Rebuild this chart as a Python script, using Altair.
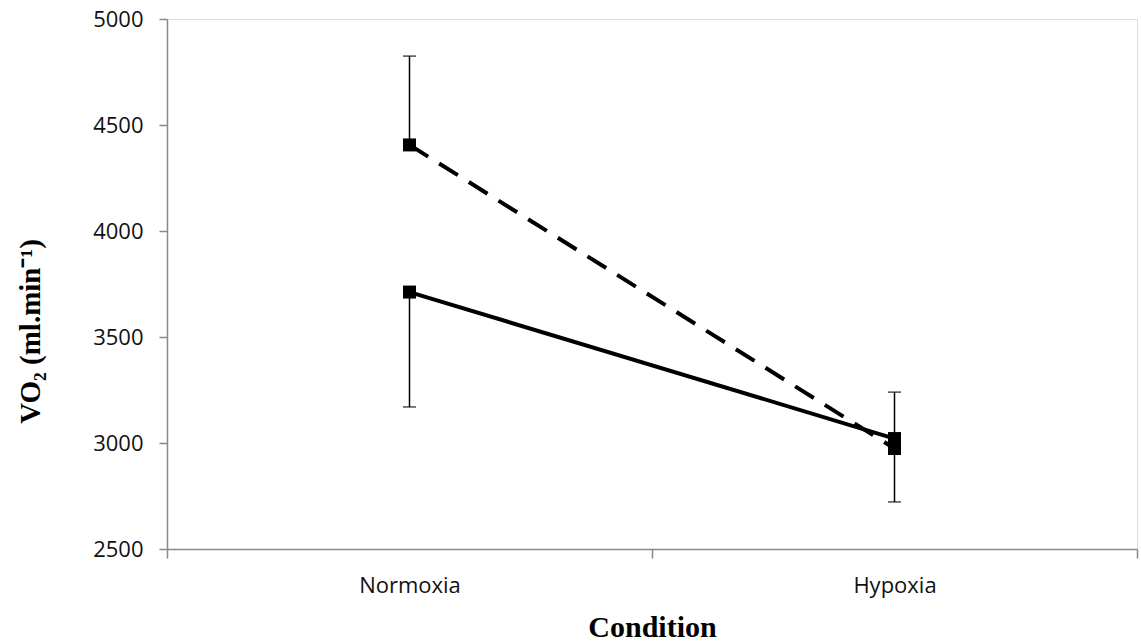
import altair as alt
import pandas as pd

conditions = ["Normoxia", "Hypoxia"]
x_pos = [0.5, 1.5]
solid_mean = [3712, 3021]
solid_err_end = [3170, 2722]
dashed_mean = [4406, 2974]
dashed_err_end = [4825, 3240]

rows = []
for i, c in enumerate(conditions):
    rows.append({"condition": c, "x": x_pos[i], "series": "solid", "mean": solid_mean[i], "err": solid_err_end[i]})
    rows.append({"condition": c, "x": x_pos[i], "series": "dashed", "mean": dashed_mean[i], "err": dashed_err_end[i]})
df = pd.DataFrame(rows)

GRAY = "#898989"
xscale = alt.Scale(domain=[0, 2], nice=False, zero=False)
yscale = alt.Scale(domain=[2500, 5000], nice=False, zero=False)

xaxis = alt.Axis(
    values=[0, 0.5, 1, 1.5, 2],
    labelExpr="datum.value == 0.5 ? 'Normoxia' : (datum.value == 1.5 ? 'Hypoxia' : '')",
    tickOpacity={"condition": {"test": "datum.value % 1 === 0", "value": 1}, "value": 0},
    tickSize=9, tickColor=GRAY, tickWidth=1.5,
    domainColor=GRAY, domainWidth=1.5,
    labelFont="Open Sans", labelFontSize=22, labelColor="#111",
    labelBaseline="alphabetic", labelPadding=34, labelFlush=False,
    grid=False,
    title="Condition", titleFont="Liberation Serif", titleFontWeight="bold",
    titleFontSize=30, titleColor="#000", titleX=485, titleY=87,
    titleBaseline="alphabetic", titleAlign="center",
)
yaxis = alt.Axis(
    values=[2500, 3000, 3500, 4000, 4500, 5000], format="d",
    tickSize=8, tickColor=GRAY, tickWidth=1.5,
    domainColor=GRAY, domainWidth=1.5,
    labelFont="Open Sans", labelFontSize=22, labelColor="#111",
    labelPadding=16, grid=False,
    title="VO₂ (ml.min⁻¹)", titleFont="Liberation Serif", titleFontWeight="bold",
    titleFontSize=29, titleColor="#000", titleX=-137, titleY=312,
    titleAngle=-90, titleAlign="center", titleBaseline="middle",
)

base = alt.Chart(df)
x_enc = alt.X("x:Q", scale=xscale, axis=xaxis)
y_enc = alt.Y("mean:Q", scale=yscale, axis=yaxis)

err_rules = base.mark_rule(color="black", strokeWidth=1.5).encode(
    x=alt.X("x:Q", scale=xscale), y=alt.Y("mean:Q", scale=yscale), y2="err:Q"
)
err_caps = base.mark_tick(color="black", thickness=1.5, size=13, orient="horizontal").encode(
    x=alt.X("x:Q", scale=xscale), y=alt.Y("err:Q", scale=yscale)
)
solid_line = base.transform_filter("datum.series == 'solid'").mark_line(
    color="black", strokeWidth=4
).encode(x=x_enc, y=y_enc)
dashed_line = base.transform_filter("datum.series == 'dashed'").mark_line(
    color="black", strokeWidth=4, strokeDash=[22, 13]
).encode(x=alt.X("x:Q", scale=xscale), y=alt.Y("mean:Q", scale=yscale))
points = base.mark_point(shape="square", filled=True, size=169, color="black", opacity=1).encode(
    x=alt.X("x:Q", scale=xscale), y=alt.Y("mean:Q", scale=yscale)
)

chart = alt.layer(solid_line, err_rules, err_caps, dashed_line, points).properties(
    width=970, height=530,
    autosize=alt.AutoSizeParams(type="none"),
    padding={"left": 167, "top": 19, "right": 4, "bottom": 94},
).configure_view(stroke=None).configure(background="white")

chart.save("out.html", embed_options={"renderer": "svg", "actions": False})
